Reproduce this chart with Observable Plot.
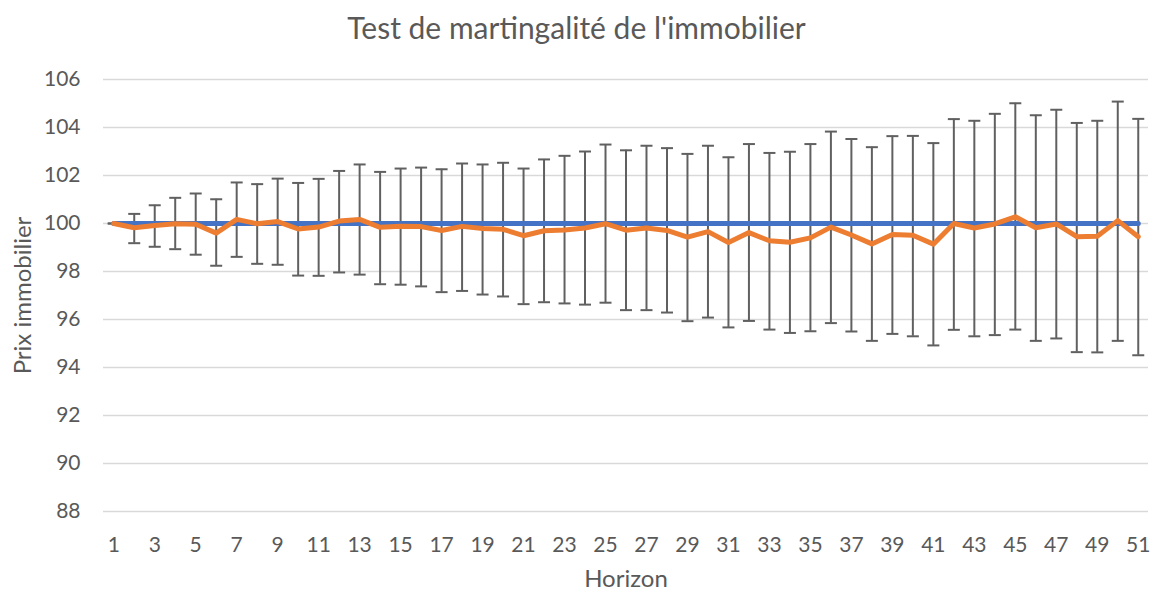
<!DOCTYPE html>
<html><head><meta charset="utf-8">
<script src="https://cdn.jsdelivr.net/npm/d3@7"></script>
<script src="https://cdn.jsdelivr.net/npm/@observablehq/plot@0.6"></script>
<style>
body{margin:0;background:#fff;font-family:Lato,sans-serif;}
#title{height:60px;line-height:54px;text-align:center;font-size:30px;color:#595959;}
#chart svg{display:block;}
</style></head><body>
<div id="title">Test de martingalité de l'immobilier</div>
<div id="chart"></div>
<script>
const horizons = [1,2,3,4,5,6,7,8,9,10,11,12,13,14,15,16,17,18,19,20,21,22,23,24,25,26,27,28,29,30,31,32,33,34,35,36,37,38,39,40,41,42,43,44,45,46,47,48,49,50,51];
const baseline = [100,100,100,100,100,100,100,100,100,100,100,100,100,100,100,100,100,100,100,100,100,100,100,100,100,100,100,100,100,100,100,100,100,100,100,100,100,100,100,100,100,100,100,100,100,100,100,100,100,100,100];
const prix = [100.0,99.82,99.92,99.99,99.97,99.60,100.17,99.99,100.08,99.77,99.85,100.10,100.17,99.84,99.89,99.87,99.71,99.88,99.79,99.76,99.49,99.70,99.73,99.81,99.99,99.72,99.81,99.71,99.43,99.66,99.21,99.62,99.28,99.22,99.40,99.85,99.52,99.15,99.54,99.51,99.14,100.0,99.81,99.98,100.28,99.82,99.98,99.45,99.47,100.12,99.45];
const upper = [100,100.40,100.76,101.07,101.25,101.01,101.71,101.64,101.87,101.69,101.86,102.19,102.46,102.15,102.29,102.33,102.26,102.50,102.46,102.53,102.29,102.67,102.82,103.0,103.29,103.05,103.24,103.14,102.90,103.24,102.76,103.31,102.94,102.99,103.31,103.83,103.52,103.18,103.64,103.65,103.35,104.35,104.28,104.57,105.01,104.51,104.74,104.19,104.28,105.08,104.36];
const lower = [100,99.18,99.03,98.93,98.70,98.24,98.61,98.32,98.28,97.83,97.82,97.96,97.87,97.47,97.45,97.38,97.14,97.19,97.04,96.96,96.64,96.72,96.67,96.62,96.70,96.39,96.39,96.29,95.93,96.08,95.67,95.94,95.58,95.44,95.51,95.85,95.50,95.11,95.40,95.30,94.92,95.57,95.30,95.35,95.58,95.11,95.21,94.64,94.63,95.11,94.51];
const xTicks = [1,3,5,7,9,11,13,15,17,19,21,23,25,27,29,31,33,35,37,39,41,43,45,47,49,51];
const yTicks = [88,90,92,94,96,98,100,102,104,106];

const data = horizons.map((h, i) => ({h, base: baseline[i], p: prix[i], hi: upper[i], lo: lower[i]}));
const cap = {draw(ctx, size) { const r = Math.sqrt(size / Math.PI); ctx.moveTo(-r, 0); ctx.lineTo(r, 0); }};
const barColor = "#606060";

const chart = Plot.plot({
  width: 1153, height: 533,
  marginTop: 19, marginBottom: 82, marginLeft: 103, marginRight: 5,
  style: {fontFamily: "Lato, sans-serif", color: "#595959", background: "#fff"},
  x: {domain: [0.5, 51.5], axis: null},
  y: {domain: [88, 106], axis: null},
  marks: [
    Plot.gridY(yTicks, {stroke: "#d9d9d9", strokeOpacity: 1, strokeWidth: 1.5}),
    Plot.axisY(yTicks, {tickSize: 0, tickPadding: 23, fontSize: 21, label: null}),
    Plot.axisX(xTicks, {tickSize: 0, tickPadding: 25.5, fontSize: 21, label: null}),
    Plot.ruleX(data, {x: "h", y1: "lo", y2: "hi", stroke: barColor, strokeWidth: 2}),
    Plot.dot(data, {x: "h", y: "hi", symbol: cap, r: 6, stroke: barColor, strokeWidth: 2, fill: "none"}),
    Plot.dot(data, {x: "h", y: "lo", symbol: cap, r: 6, stroke: barColor, strokeWidth: 2, fill: "none"}),
    Plot.line(data, {x: "h", y: "base", stroke: "#4472C4", strokeWidth: 5}),
    Plot.line(data, {x: "h", y: "p", stroke: "#ED7D31", strokeWidth: 5, strokeLinejoin: "round"}),
    Plot.text(["Horizon"], {text: d => d, frameAnchor: "bottom", dy: 68, fontSize: 24, fill: "#595959", textAnchor: "middle", lineAnchor: "middle"}),
    Plot.text(["Prix immobilier"], {text: d => d, frameAnchor: "left", dx: -80.5, rotate: -90, fontSize: 24, fill: "#595959", textAnchor: "middle", lineAnchor: "middle"})
  ]
});
document.getElementById("chart").appendChild(chart);
</script>
</body></html>
